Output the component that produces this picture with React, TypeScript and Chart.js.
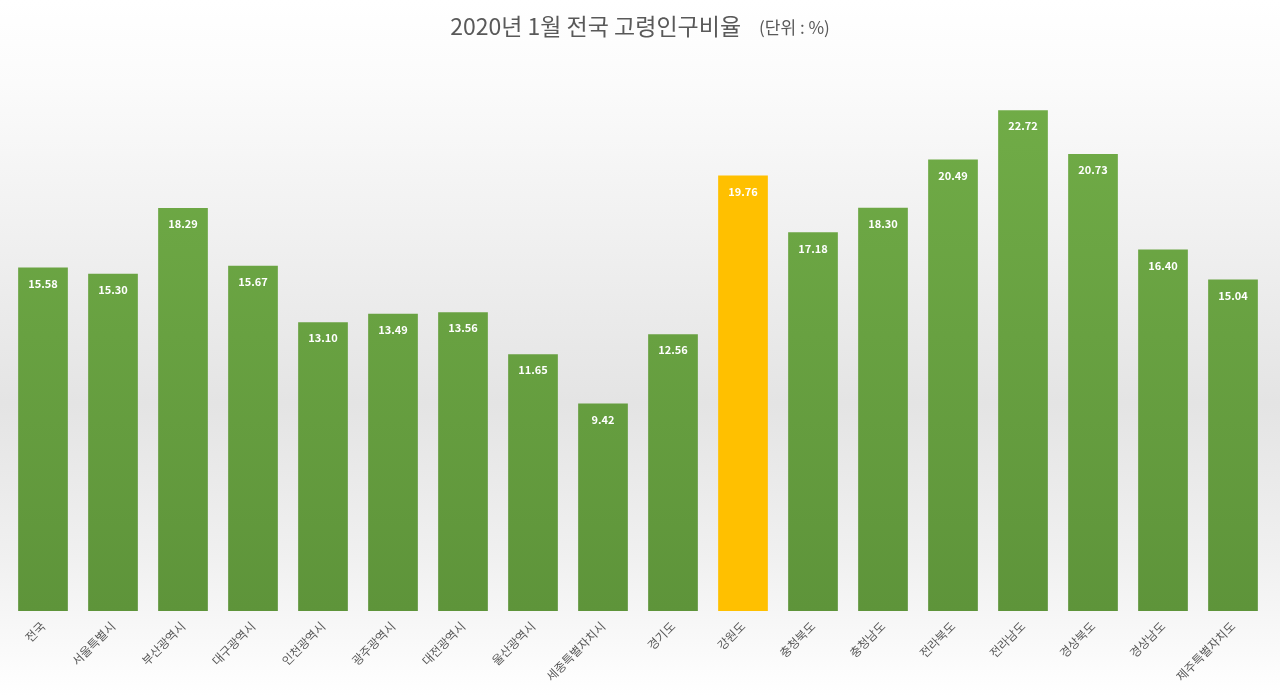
import React, { useEffect, useRef } from "react";
import { Chart, registerables } from "chart.js";

Chart.register(...registerables);

const categories = [
  "전국", "서울특별시", "부산광역시", "대구광역시", "인천광역시", "광주광역시",
  "대전광역시", "울산광역시", "세종특별자치시", "경기도", "강원도", "충청북도",
  "충청남도", "전라북도", "전라남도", "경상북도", "경상남도", "제주특별자치도",
];
const values = [
  15.58, 15.3, 18.29, 15.67, 13.1, 13.49, 13.56, 11.65, 9.42, 12.56,
  19.76, 17.18, 18.3, 20.49, 22.72, 20.73, 16.4, 15.04,
];
const highlightIndex = 10;
const titleMain = "2020년 1월 전국 고령인구비율";
const titleUnit = "(단위 : %)";

const FONT = "'Noto Sans CJK KR', 'Noto Sans', sans-serif";

const bgPlugin = {
  id: "bg",
  beforeDraw(chart: any) {
    const { ctx, width, height } = chart;
    const g = ctx.createLinearGradient(0, 0, 0, height);
    g.addColorStop(0, "#ffffff");
    g.addColorStop(0.12, "#fbfbfb");
    g.addColorStop(0.58, "#e4e4e4");
    g.addColorStop(0.8, "#f0f0f0");
    g.addColorStop(1, "#ffffff");
    ctx.save();
    ctx.fillStyle = g;
    ctx.fillRect(0, 0, width, height);
    ctx.restore();
  },
};

const titlePlugin = {
  id: "titleDraw",
  afterDraw(chart: any) {
    const { ctx, width } = chart;
    ctx.save();
    ctx.fillStyle = "#595959";
    ctx.textBaseline = "middle";
    ctx.font = `23px ${FONT}`;
    const w1 = ctx.measureText(titleMain).width;
    ctx.font = `17px ${FONT}`;
    const w2 = ctx.measureText(titleUnit).width;
    const gap = 18;
    const total = w1 + gap + w2;
    const x = width / 2 - total / 2;
    ctx.textAlign = "left";
    ctx.font = `23px ${FONT}`;
    ctx.fillText(titleMain, x, 26);
    ctx.font = `17px ${FONT}`;
    ctx.fillText(titleUnit, x + w1 + gap, 28);
    ctx.restore();
  },
};

const labelPlugin = {
  id: "valueLabels",
  afterDatasetsDraw(chart: any) {
    const { ctx } = chart;
    const meta = chart.getDatasetMeta(0);
    ctx.save();
    ctx.fillStyle = "#ffffff";
    ctx.font = `bold 11px ${FONT}`;
    ctx.textAlign = "center";
    ctx.textBaseline = "middle";
    meta.data.forEach((bar: any, i: number) => {
      ctx.fillText(values[i].toFixed(2), bar.x, bar.y + 16);
    });
    ctx.restore();
  },
};

export default function App() {
  const ref = useRef<HTMLCanvasElement>(null);

  useEffect(() => {
    if (!ref.current) return;
    const chart = new Chart(ref.current, {
      type: "bar",
      data: {
        labels: categories,
        datasets: [
          {
            data: values,
            backgroundColor: (c: any) => {
              const area = c.chart.chartArea;
              if (!area) return "#70ad47";
              const ctx = c.chart.ctx;
              const g = ctx.createLinearGradient(0, area.top, 0, area.bottom);
              if (c.dataIndex === highlightIndex) {
                g.addColorStop(0, "#ffc000");
                g.addColorStop(1, "#ffc000");
              } else {
                g.addColorStop(0, "#72ae48");
                g.addColorStop(1, "#5e943a");
              }
              return g;
            },
            borderWidth: 0,
            categoryPercentage: 1,
            barPercentage: 0.71,
          },
        ],
      },
      options: {
        responsive: false,
        animation: false,
        layout: { padding: { left: 8, right: 12, top: 60, bottom: 0 } },
        plugins: {
          legend: { display: false },
          title: { display: false },
          tooltip: { enabled: false },
        },
        scales: {
          x: {
            grid: { display: false, drawTicks: false },
            border: { display: false },
            ticks: {
              color: "#595959",
              font: { family: FONT, size: 12 },
              maxRotation: 45,
              minRotation: 45,
              padding: 8,
              autoSkip: false,
            },
            afterFit(scale: any) {
              scale.height = 85;
            },
          },
          y: {
            display: false,
            min: 0,
            max: 25,
          },
        },
      },
      plugins: [bgPlugin, titlePlugin, labelPlugin],
    });
    return () => chart.destroy();
  }, []);

  return (
    <div style={{ position: "fixed", left: 0, top: 0, width: 1280, height: 696 }}>
      <canvas ref={ref} width={1280} height={696} style={{ width: 1280, height: 696 }} />
    </div>
  );
}
